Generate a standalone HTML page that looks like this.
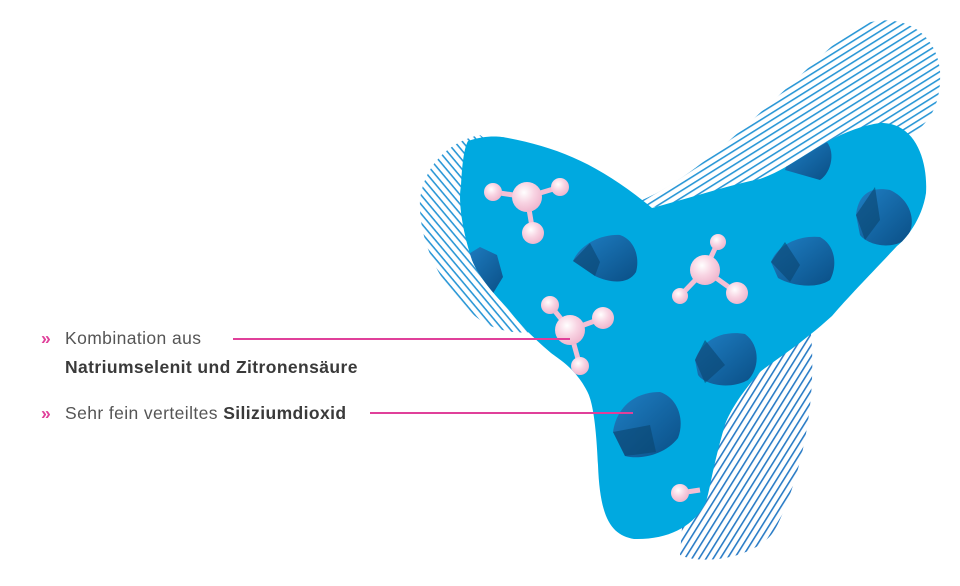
<!DOCTYPE html>
<html><head><meta charset="utf-8"><style>
html,body{margin:0;padding:0;background:#fff;width:960px;height:586px;overflow:hidden}
svg{position:absolute;left:0;top:0}
.t{font-family:"Liberation Sans",sans-serif;font-size:17.5px;fill:#555;letter-spacing:0.4px}
.b{font-weight:bold;fill:#3a3a3a;letter-spacing:0.4px}
.c{fill:#e0409a;font-weight:bold}
</style></head><body>
<svg width="960" height="586" viewBox="0 0 960 586">
<defs>
<pattern id="h" width="6" height="6" patternUnits="userSpaceOnUse" patternTransform="rotate(-32)">
<rect width="6" height="1.6" fill="#2a97d6"/></pattern>
<pattern id="h2" width="6" height="6" patternUnits="userSpaceOnUse" patternTransform="rotate(50)">
<rect width="6" height="1.6" fill="#2a97d6"/></pattern>
<pattern id="h3" width="6" height="6" patternUnits="userSpaceOnUse" patternTransform="rotate(-58)">
<rect width="6" height="1.6" fill="#2a7cc6"/></pattern>
<clipPath id="bc"><path id="blobp" d="M468,141 C485,135 500,136 508,138 C560,148 600,165 652,208 C700,195 730,185 760,179 C800,165 830,130 880,123 C915,122 928,160 926,193 C922,220 905,240 897,246 C870,275 850,295 832,316 C800,345 775,360 760,372 C735,400 726,420 724,428 C712,470 710,490 706,502 C695,525 670,540 634,539 C612,535 600,520 598,465 C596,420 592,400 587,391 C575,368 560,360 551,353 C530,335 518,322 508,309 C490,290 478,275 472,260 C462,230 458,200 461,186 C462,165 464,148 468,141 Z"/></clipPath>
<radialGradient id="pk" cx="0.4" cy="0.35" r="0.7"><stop offset="0" stop-color="#fff"/><stop offset="0.5" stop-color="#f8d3e2"/><stop offset="1" stop-color="#eeb3cb"/></radialGradient>
<linearGradient id="rk" x1="0" y1="0" x2="1" y2="1"><stop offset="0" stop-color="#1f7fc4"/><stop offset="1" stop-color="#0a4f86"/></linearGradient>
</defs>
<path d="M630,205 C700,180 770,100 850,30 C890,8 935,25 940,70 C942,110 925,130 900,140 L820,150 L700,210 Z" fill="url(#h)"/>
<path d="M480,135 C455,140 425,160 420,200 C418,240 440,290 480,320 C510,340 540,330 560,330 L500,150 Z" fill="url(#h2)"/>
<path d="M700,370 C740,345 790,320 810,325 C818,390 805,470 775,530 C755,560 700,565 680,555 L690,420 Z" fill="url(#h3)"/>
<use href="#blobp" fill="#00a9e0"/>
<g clip-path="url(#bc)">
<g fill="url(#rk)">
<path d="M573,261 C580,245 600,234 620,235 C635,240 640,258 636,272 C628,285 610,283 595,276 Z"/>
<path d="M771,262 C778,244 800,235 820,237 C835,245 838,265 830,280 C815,290 790,285 778,278 Z"/>
<path d="M695,360 C702,340 722,330 745,334 C760,345 760,368 748,380 C730,390 705,385 698,375 Z"/>
<path d="M613,432 C616,410 632,392 660,392 C678,398 685,420 678,438 C665,455 640,460 625,456 Z"/>
<path d="M856,215 C858,195 870,186 890,190 C912,200 918,225 905,240 C890,250 868,245 860,235 Z"/>
<path d="M785,170 C790,152 808,138 825,140 C836,150 832,172 820,180 C805,185 790,180 Z"/>
<path d="M462,258 L480,247 L497,255 L503,277 L492,295 L470,292 Z"/>
</g>
<g fill="#0a456f" opacity="0.6">
<path d="M573,261 L590,243 L600,262 L595,276 Z"/>
<path d="M771,262 L785,242 L800,265 L790,282 Z"/>
<path d="M695,360 L705,340 L725,365 L705,383 Z"/>
<path d="M613,432 L650,425 L656,452 L625,456 Z"/>
<path d="M856,215 L875,187 L880,220 L865,240 Z"/>
</g>
<g stroke="#f3bfd4" stroke-width="5" fill="none">
<path d="M493,192 L527,197 L560,187 M527,197 L533,233"/>
<path d="M718,242 L705,270 L680,296 M705,270 L737,293"/>
<path d="M550,305 L570,330 L603,318 M570,330 L580,366"/>
<path d="M680,493 L700,490"/>
</g>
<g fill="url(#pk)">
<circle cx="527" cy="197" r="15"/><circle cx="493" cy="192" r="9"/><circle cx="560" cy="187" r="9"/><circle cx="533" cy="233" r="11"/>
<circle cx="705" cy="270" r="15"/><circle cx="718" cy="242" r="8"/><circle cx="680" cy="296" r="8"/><circle cx="737" cy="293" r="11"/>
<circle cx="570" cy="330" r="15"/><circle cx="550" cy="305" r="9"/><circle cx="603" cy="318" r="11"/><circle cx="580" cy="366" r="9"/>
<circle cx="680" cy="493" r="9"/>
</g>
</g>
<line x1="233" y1="339" x2="570" y2="339" stroke="#e0409a" stroke-width="2"/>
<line x1="370" y1="413" x2="633" y2="413" stroke="#e0409a" stroke-width="2"/>
<text x="41" y="344" class="t c">»</text>
<text x="65" y="344" class="t">Kombination aus</text>
<text x="65" y="373" class="t b">Natriumselenit und Zitronensäure</text>
<text x="41" y="419" class="t c">»</text>
<text x="65" y="419" class="t">Sehr fein verteiltes <tspan class="b">Siliziumdioxid</tspan></text>
</svg>
</body></html>
